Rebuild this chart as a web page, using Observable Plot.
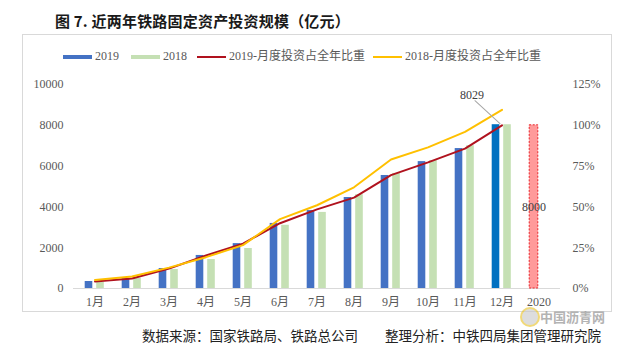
<!DOCTYPE html>
<html><head><meta charset="utf-8">
<script src="https://cdn.jsdelivr.net/npm/d3@7"></script>
<script src="https://cdn.jsdelivr.net/npm/@observablehq/plot@0.6"></script>
<style>
html,body{margin:0;padding:0;background:#fff;}
#wrap{position:relative;width:629px;height:355px;overflow:hidden;font-family:"Liberation Serif","Times New Roman","Noto Sans CJK SC",serif;}
#wrap svg{position:absolute;left:0;top:0;}
.abs{position:absolute;white-space:nowrap;}
#frame{position:absolute;left:22px;top:34px;width:588px;height:276px;border:1px solid #d9d9d9;}
#title{left:55px;top:10px;font:bold 15px "Noto Sans CJK SC",sans-serif;color:#1a1a1a;letter-spacing:0.2px;}
.lg{top:48px;font-size:12px;color:#595959;line-height:16px;}
.sw{display:inline-block;width:29px;vertical-align:middle;margin-right:3px;}
#foot{left:142px;top:327px;font:13.5px/16px "Noto Sans CJK SC",sans-serif;color:#222;}
#wm{left:540px;top:310px;font:bold 13px/13px "Noto Sans CJK SC",sans-serif;color:#9a9a9a;opacity:0.75;}
#wmc{left:520px;top:307px;width:16px;height:16px;border-radius:50%;background:#c8c8c8;opacity:0.6;border:2px solid #e8c020;}
</style></head>
<body><div id="wrap">
<div id="frame"></div>
</div>
<script>
const months = ["1月","2月","3月","4月","5月","6月","7月","8月","9月","10月","11月","12月","2020"];
const inv2019 = [343, 490, 980, 1620, 2200, 3190, 3820, 4460, 5540, 6220, 6860, 8029];
const inv2018 = [300, 500, 930, 1420, 1960, 3100, 3730, 4600, 5640, 6270, 7000, 8028];
const share2019 = [4.3, 6.1, 12.2, 20.2, 27.5, 40.0, 48.5, 55.7, 69.5, 77.3, 85.7, 100];
const share2018 = [5.2, 7.4, 12.8, 19.2, 26.6, 42.5, 51.0, 62.0, 79.0, 86.5, 96.0, 109.5];
const target2020 = [{month: "2020", value: 8000}];
const leftTicks = [0, 2000, 4000, 6000, 8000, 10000];
const rightTicks = [0, 25, 50, 75, 100, 125];
const title = "图 7. 近两年铁路固定资产投资规模（亿元）";
const source = "数据来源：国家铁路局、铁路总公司　　整理分析：中铁四局集团管理研究院";
const seriesNames = ["2019", "2018", "2019-月度投资占全年比重", "2018-月度投资占全年比重"];

const pctScale = 10000 / 125; // right axis percentage mapped onto left axis units
const rows = inv2019.map((v, i) => ({month: months[i], v19: v, v18: inv2018[i], p19: share2019[i], p18: share2018[i]}));
const last = rows[rows.length - 1];

const colBlue = "#4472c4", colBlue12 = "#0070c0", colGreen = "#c5e0b4", colRed = "#b0121e", colYellow = "#ffc000";
const serif = "'Liberation Serif','Times New Roman','Noto Sans CJK SC',serif";

const chart = Plot.plot({
  width: 629, height: 355,
  marginTop: 84, marginBottom: 67, marginLeft: 73, marginRight: 69,
  style: {fontFamily: serif, fontSize: "12px", color: "#595959", background: "transparent", overflow: "visible"},
  x: {domain: months, padding: 0},
  y: {domain: [0, 10000]},
  marks: [
    Plot.axisY({ticks: leftTicks, tickSize: 0, tickPadding: 10, label: null, anchor: "left", fontSize: 12, tickFormat: d => String(d)}),
    Plot.axisY({ticks: rightTicks.map(t => t * pctScale), tickSize: 0, tickPadding: 12, label: null, anchor: "right", textAnchor: "start", tickFormat: d => Math.round(d / pctScale) + "%", fontSize: 12}),
    Plot.axisX({tickSize: 0, tickPadding: 9, label: null, fontSize: 12}),
    Plot.ruleY([0], {stroke: "#d9d9d9", strokeWidth: 1}),
    Plot.barY(rows, {x: "month", y: "v19", fill: d => d === last ? colBlue12 : colBlue, insetLeft: 8.7, insetRight: 20.7}),
    Plot.barY(rows, {x: "month", y: "v18", fill: colGreen, insetLeft: 20.2, insetRight: 9.2}),
    Plot.barY(target2020, {x: "month", y: "value", fill: "#ff9a9a", stroke: "#e8242a", strokeWidth: 1, strokeDasharray: "2,1.5", insetLeft: 9.2, insetRight: 19.2}),
    Plot.line(rows, {x: "month", y: d => d.p19 * pctScale, stroke: colRed, strokeWidth: 2}),
    Plot.line(rows, {x: "month", y: d => d.p18 * pctScale, stroke: colYellow, strokeWidth: 2}),
    Plot.vector([last], {x: "month", y: "v19", anchor: "start", length: 34, rotate: -47.4, r: 0.01, stroke: "#a6a6a6", strokeWidth: 1, dx: -2, dy: -1}),
    Plot.text([last], {x: "month", y: "v19", text: d => String(d.v19), dx: -30, dy: -30, fill: "#404040", fontSize: 12}),
    Plot.text(target2020, {x: "month", y: d => d.value / 2, text: d => String(d.value), dx: -5, fill: "#404040", fontSize: 12})
  ]
});
const wrap = document.getElementById("wrap");
wrap.appendChild(chart);

function add(id, cls, html, style) {
  const d = document.createElement("div");
  if (id) d.id = id;
  d.className = "abs " + (cls || "");
  d.innerHTML = html;
  if (style) Object.assign(d.style, style);
  wrap.appendChild(d);
  return d;
}
add("title", "", title);
const lgPos = [63, 131, 197, 373];
const lgCols = [colBlue, colGreen, colRed, colYellow];
const lgH = [4, 4, 2, 2];
seriesNames.forEach((n, i) => {
  add(null, "lg", `<span class="sw" style="height:${lgH[i]}px;background:${lgCols[i]}"></span>${n}`, {left: lgPos[i] + "px"});
});
add("foot", "", source);
add("wmc", "", "");
add("wm", "", "中国沥青网");
</script>
</body></html>
